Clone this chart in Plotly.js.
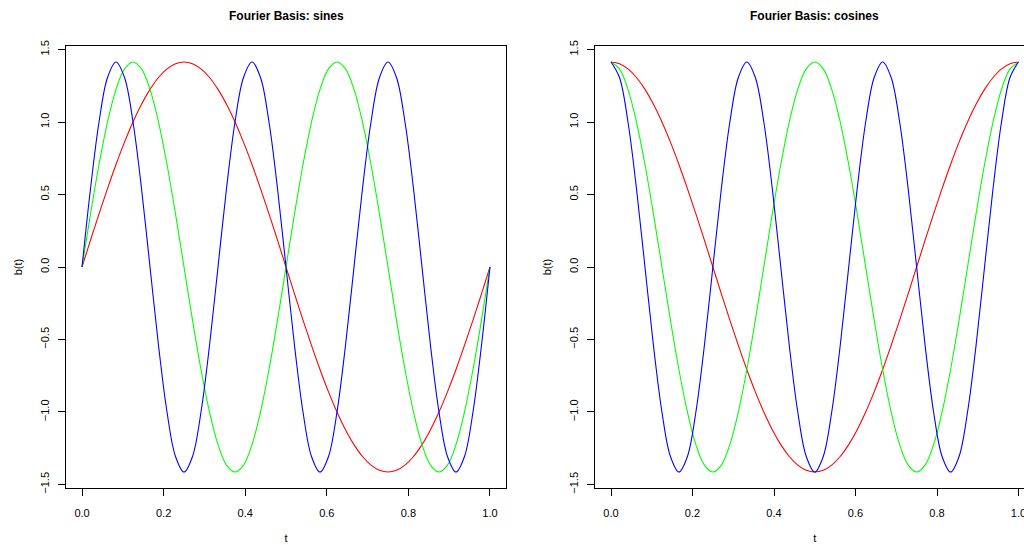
<!DOCTYPE html>
<html>
<head>
<meta charset="utf-8">
<script src="https://cdn.plot.ly/plotly-3.0.1.min.js"></script>
<style>
  html, body { margin: 0; padding: 0; overflow: hidden; background: #fff; }
  #chart { width: 1040px; height: 545px; }
</style>
</head>
<body>
<div id="chart"></div>
<script>
// Sample points t = 0, 1/48, ..., 1
const t = [
  0.00000, 0.02083, 0.04167, 0.06250, 0.08333, 0.10417, 0.12500, 0.14583, 0.16667, 0.18750,
  0.20833, 0.22917, 0.25000, 0.27083, 0.29167, 0.31250, 0.33333, 0.35417, 0.37500, 0.39583,
  0.41667, 0.43750, 0.45833, 0.47917, 0.50000, 0.52083, 0.54167, 0.56250, 0.58333, 0.60417,
  0.62500, 0.64583, 0.66667, 0.68750, 0.70833, 0.72917, 0.75000, 0.77083, 0.79167, 0.81250,
  0.83333, 0.85417, 0.87500, 0.89583, 0.91667, 0.93750, 0.95833, 0.97917, 1.00000
];

// Sine basis functions, frequencies 1, 2, 3
const sine1 = [
  0, 0.185, 0.366, 0.541, 0.707, 0.861, 1.000, 1.122, 1.225, 1.307, 1.366, 1.402, 1.414,
  1.402, 1.366, 1.307, 1.225, 1.122, 1.000, 0.861, 0.707, 0.541, 0.366, 0.185, 0,
  -0.185, -0.366, -0.541, -0.707, -0.861, -1.000, -1.122, -1.225, -1.307, -1.366, -1.402, -1.414,
  -1.402, -1.366, -1.307, -1.225, -1.122, -1.000, -0.861, -0.707, -0.541, -0.366, -0.185, 0
];
const sine2 = [
  0, 0.366, 0.707, 1.000, 1.225, 1.366, 1.414, 1.366, 1.225, 1.000, 0.707, 0.366,
  0, -0.366, -0.707, -1.000, -1.225, -1.366, -1.414, -1.366, -1.225, -1.000, -0.707, -0.366,
  0, 0.366, 0.707, 1.000, 1.225, 1.366, 1.414, 1.366, 1.225, 1.000, 0.707, 0.366,
  0, -0.366, -0.707, -1.000, -1.225, -1.366, -1.414, -1.366, -1.225, -1.000, -0.707, -0.366, 0
];
const sine3 = [
  0, 0.541, 1.000, 1.307, 1.414, 1.307, 1.000, 0.541, 0, -0.541, -1.000, -1.307, -1.414, -1.307, -1.000, -0.541,
  0, 0.541, 1.000, 1.307, 1.414, 1.307, 1.000, 0.541, 0, -0.541, -1.000, -1.307, -1.414, -1.307, -1.000, -0.541,
  0, 0.541, 1.000, 1.307, 1.414, 1.307, 1.000, 0.541, 0, -0.541, -1.000, -1.307, -1.414, -1.307, -1.000, -0.541, 0
];

// Cosine basis functions, frequencies 1, 2, 3
const cosine1 = [
  1.414, 1.402, 1.366, 1.307, 1.225, 1.122, 1.000, 0.861, 0.707, 0.541, 0.366, 0.185, 0,
  -0.185, -0.366, -0.541, -0.707, -0.861, -1.000, -1.122, -1.225, -1.307, -1.366, -1.402, -1.414,
  -1.402, -1.366, -1.307, -1.225, -1.122, -1.000, -0.861, -0.707, -0.541, -0.366, -0.185, 0,
  0.185, 0.366, 0.541, 0.707, 0.861, 1.000, 1.122, 1.225, 1.307, 1.366, 1.402, 1.414
];
const cosine2 = [
  1.414, 1.366, 1.225, 1.000, 0.707, 0.366, 0, -0.366, -0.707, -1.000, -1.225, -1.366,
  -1.414, -1.366, -1.225, -1.000, -0.707, -0.366, 0, 0.366, 0.707, 1.000, 1.225, 1.366,
  1.414, 1.366, 1.225, 1.000, 0.707, 0.366, 0, -0.366, -0.707, -1.000, -1.225, -1.366,
  -1.414, -1.366, -1.225, -1.000, -0.707, -0.366, 0, 0.366, 0.707, 1.000, 1.225, 1.366, 1.414
];
const cosine3 = [
  1.414, 1.307, 1.000, 0.541, 0, -0.541, -1.000, -1.307, -1.414, -1.307, -1.000, -0.541, 0, 0.541, 1.000, 1.307,
  1.414, 1.307, 1.000, 0.541, 0, -0.541, -1.000, -1.307, -1.414, -1.307, -1.000, -0.541, 0, 0.541, 1.000, 1.307,
  1.414, 1.307, 1.000, 0.541, 0, -0.541, -1.000, -1.307, -1.414, -1.307, -1.000, -0.541, 0, 0.541, 1.000, 1.307, 1.414
];

const panelTitles = ["Fourier Basis: sines", "Fourier Basis: cosines"];
const xTicks = [0, 0.2, 0.4, 0.6, 0.8, 1.0];
const xTickText = ["0.0", "0.2", "0.4", "0.6", "0.8", "1.0"];
const yTicks = [-1.5, -1.0, -0.5, 0, 0.5, 1.0, 1.5];
const yTickText = ["\u22121.5", "\u22121.0", "\u22120.5", "0.0", "0.5", "1.0", "1.5"];
const colours = ["#FF0000", "#00FF00", "#0000FF"];

// Page geometry (pixels)
const W = 1040, H = 545;
const boxes = [
  { x0: 65.7, x1: 506.3 },
  { x0: 594.7, x1: 1034.8 }
];
const boxTop = 45.6, boxBottom = 488.4;
const font = "Liberation Sans, Arial, Helvetica, sans-serif";

function line(x, y, colour, xa, ya) {
  return {
    x: x, y: y, type: "scatter", mode: "lines",
    line: { color: colour, width: 1.1, shape: "spline", smoothing: 1 },
    xaxis: xa, yaxis: ya, hoverinfo: "skip", showlegend: false
  };
}

const data = [
  line(t, sine1, colours[0], "x", "y"),
  line(t, sine2, colours[1], "x", "y"),
  line(t, sine3, colours[2], "x", "y"),
  line(t, cosine1, colours[0], "x2", "y2"),
  line(t, cosine2, colours[1], "x2", "y2"),
  line(t, cosine3, colours[2], "x2", "y2")
];

function xAxis(i, anchor) {
  return {
    domain: [boxes[i].x0 / W, boxes[i].x1 / W],
    anchor: anchor,
    range: [-0.04, 1.04],
    tickmode: "array", tickvals: xTicks, ticktext: xTickText,
    ticks: "outside", ticklen: 7, tickwidth: 1, tickcolor: "#000",
    showline: true, linecolor: "#000", linewidth: 1, mirror: true,
    showgrid: false, zeroline: false,
    tickfont: { family: font, size: 11, color: "#000" },
    ticklabelstandoff: 7,
    title: { text: "t", font: { family: font, size: 11, color: "#000" }, standoff: 16 }
  };
}
function yAxis(i, anchor) {
  return {
    domain: [(H - boxBottom) / H, (H - boxTop) / H],
    anchor: anchor,
    range: [-1.527, 1.527],
    tickmode: "array", tickvals: yTicks, ticktext: yTickText,
    ticks: "outside", ticklen: 7, tickwidth: 1, tickcolor: "#000",
    tickangle: -90,
    showline: true, linecolor: "#000", linewidth: 1, mirror: true,
    showgrid: false, zeroline: false,
    tickfont: { family: font, size: 11, color: "#000" },
    ticklabelstandoff: 4,
    title: { text: "b(t)", font: { family: font, size: 11, color: "#000" }, standoff: 14 }
  };
}

const annotations = panelTitles.map((txt, i) => ({
  text: "<b>" + txt + "</b>",
  xref: "paper", yref: "paper",
  x: (boxes[i].x0 + boxes[i].x1) / 2 / W,
  y: 1 - 16 / H,
  xanchor: "center", yanchor: "middle",
  showarrow: false,
  font: { family: font, size: 12, color: "#000" }
}));

const layout = {
  width: W, height: H,
  margin: { l: 0, r: 0, t: 0, b: 0 },
  paper_bgcolor: "#fff", plot_bgcolor: "#fff",
  xaxis: xAxis(0, "y"), yaxis: yAxis(0, "x"),
  xaxis2: xAxis(1, "y2"), yaxis2: yAxis(1, "x2"),
  annotations: annotations,
  showlegend: false
};

Plotly.newPlot("chart", data, layout, { displayModeBar: false, staticPlot: true });
</script>
</body>
</html>
